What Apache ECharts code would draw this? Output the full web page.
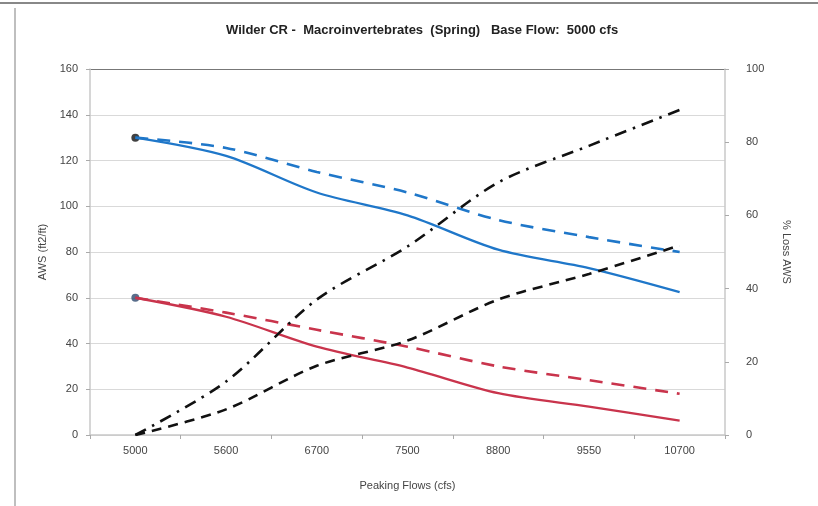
<!DOCTYPE html>
<html>
<head>
<meta charset="utf-8">
<script src="https://cdn.jsdelivr.net/npm/echarts@6/dist/echarts.min.js"></script>
<style>
  html, body { margin: 0; padding: 0; background: #fff; }
  #main { width: 818px; height: 506px; }
</style>
</head>
<body>
<div id="main"></div>
<script>
var flows = ['5000', '5600', '6700', '7500', '8800', '9550', '10700'];

// AWS (ft2/ft), left axis
var blueSolid = [130, 122, 106, 96, 81, 73, 62.5];
var blueDashed = [130, 125.5, 115, 106, 94, 86.5, 80];
var redSolid = [60, 51.7, 38.6, 29.5, 18.3, 12.4, 6.3];
var redDashed = [60, 53.5, 46, 38.6, 30, 24, 18];

// % Loss AWS, right axis
var lossDashDot = [0, 14.6, 37, 51.5, 69, 79, 88.8];
var lossDashed = [0, 7, 18.9, 25.8, 37, 44, 51.8];

var leftTicks = [0, 20, 40, 60, 80, 100, 120, 140, 160];

var BLUE = '#1f77c9';
var RED = '#c9344c';
var AXIS_TEXT = { color: '#444', fontFamily: 'Liberation Sans', fontSize: 11 };

var gridColors = leftTicks.map(function (v, i) {
    return i === leftTicks.length - 1 ? '#777' : '#d9d9d9';
});

var chart = echarts.init(document.getElementById('main'));
var option = {
    animation: false,
    backgroundColor: '#fff',
    title: {
        text: 'Wilder CR -  Macroinvertebrates  (Spring)   Base Flow:  5000 cfs',
        left: 221,
        top: 19,
        textStyle: {
            fontFamily: 'Liberation Sans',
            fontSize: 13,
            fontWeight: 'bold',
            color: '#222'
        }
    },
    graphic: [
        {
            type: 'line',
            shape: { x1: 0, y1: 3, x2: 818, y2: 3 },
            style: { stroke: '#888', lineWidth: 2 }
        },
        {
            type: 'line',
            shape: { x1: 15, y1: 8, x2: 15, y2: 506 },
            style: { stroke: '#aaa', lineWidth: 1.5 }
        }
    ],
    grid: {
        left: 90,
        right: 93,
        top: 69,
        bottom: 71
    },
    xAxis: {
        type: 'category',
        data: flows,
        boundaryGap: true,
        name: 'Peaking Flows (cfs)',
        nameLocation: 'middle',
        nameGap: 45,
        nameTextStyle: AXIS_TEXT,
        axisLine: { lineStyle: { color: '#c8c8c8', width: 1.5 } },
        axisTick: { show: true, length: 4, lineStyle: { color: '#aaa' } },
        axisLabel: Object.assign({ margin: 10 }, AXIS_TEXT),
        splitLine: { show: false }
    },
    yAxis: [
        {
            type: 'value',
            min: 0,
            max: 160,
            interval: 20,
            name: 'AWS (ft2/ft)',
            nameLocation: 'middle',
            nameGap: 33,
            nameTextStyle: AXIS_TEXT,
            axisLine: { show: true, lineStyle: { color: '#c8c8c8', width: 1.5 } },
            axisTick: { show: true, length: 4, lineStyle: { color: '#aaa' } },
            axisLabel: Object.assign({ margin: 12 }, AXIS_TEXT),
            splitLine: { lineStyle: { color: gridColors, width: 1.2 } }
        },
        {
            type: 'value',
            min: 0,
            max: 100,
            interval: 20,
            position: 'right',
            name: '% Loss AWS',
            nameLocation: 'middle',
            nameRotate: -90,
            nameGap: 56,
            nameTextStyle: AXIS_TEXT,
            axisLine: { show: true, lineStyle: { color: '#c8c8c8', width: 1.5 } },
            axisTick: { show: true, length: 4, lineStyle: { color: '#aaa' } },
            axisLabel: Object.assign({ margin: 21 }, AXIS_TEXT),
            splitLine: { show: false }
        }
    ],
    series: [
        {
            name: 'Blue dashed',
            type: 'line',
            data: blueDashed,
            smooth: 0.3,
            showSymbol: false,
            lineStyle: { color: BLUE, width: 2.6, type: [13, 9] }
        },
        {
            name: 'Blue solid',
            type: 'line',
            data: blueSolid,
            smooth: 0.3,
            showSymbol: false,
            lineStyle: { color: BLUE, width: 2.3 }
        },
        {
            name: 'Red dashed',
            type: 'line',
            data: redDashed,
            smooth: 0.3,
            showSymbol: false,
            lineStyle: { color: RED, width: 2.6, type: [13, 9] }
        },
        {
            name: 'Red solid',
            type: 'line',
            data: redSolid,
            smooth: 0.3,
            showSymbol: false,
            lineStyle: { color: RED, width: 2.3 }
        },
        {
            name: 'Loss dash-dot',
            type: 'line',
            yAxisIndex: 1,
            data: lossDashDot,
            smooth: 0.3,
            showSymbol: false,
            lineStyle: { color: '#111', width: 2.6, type: [12, 7, 2.5, 7] }
        },
        {
            name: 'Loss dashed',
            type: 'line',
            yAxisIndex: 1,
            data: lossDashed,
            smooth: 0.3,
            showSymbol: false,
            lineStyle: { color: '#111', width: 2.6, type: [10, 7] }
        },
        {
            name: 'Base points',
            type: 'scatter',
            symbol: 'circle',
            symbolSize: 8,
            data: [
                { value: [0, blueSolid[0]], itemStyle: { color: '#111' } },
                { value: [0, redSolid[0]], itemStyle: { color: '#2f4a6e' } }
            ]
        }
    ]
};
chart.setOption(option);
</script>
</body>
</html>
